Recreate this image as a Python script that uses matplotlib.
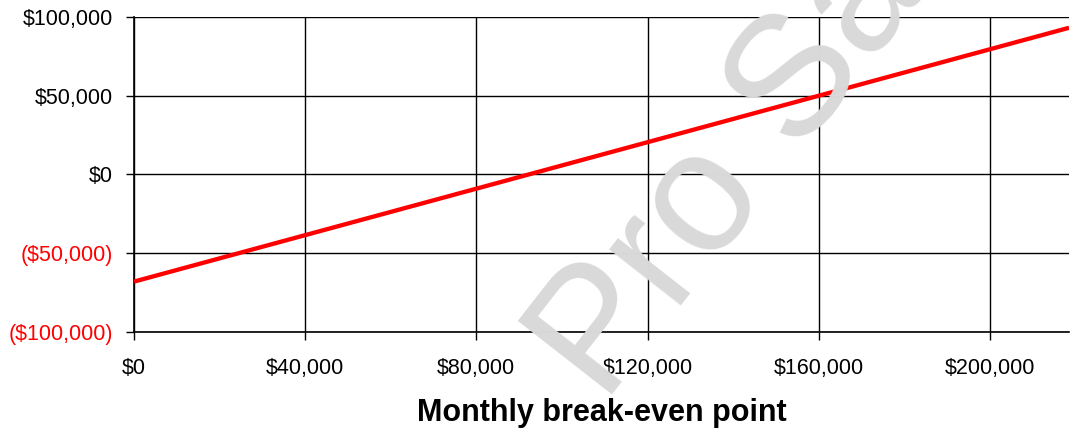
import matplotlib
matplotlib.use("Agg")
import matplotlib.pyplot as plt
from matplotlib.ticker import FuncFormatter

plt.rcParams['font.family'] = ['Liberation Sans', 'DejaVu Sans']

# data
revenue = [0, 40000, 80000, 120000, 160000, 200000, 218500]
profit = [-68000, -38500, -9000, 20500, 50000, 79500, 93150]
x_ticks = [0, 40000, 80000, 120000, 160000, 200000]
y_ticks = [-100000, -50000, 0, 50000, 100000]


def money(v, pos=None):
    if v < 0:
        return "(${:,.0f})".format(-v)
    return "${:,.0f}".format(v)


fig = plt.figure(figsize=(10.71, 4.28), dpi=100)
ax = fig.add_axes([134 / 1071, 1 - 332 / 428, (1069 - 134) / 1071, (332 - 17) / 428])

# watermark
fig.text(604 / 1071, 1 - 405 / 428, "Pro Sample", fontsize=124, color="#d9d9d9",
         rotation=52, rotation_mode="anchor", ha="left", va="baseline", zorder=0)
ax.patch.set_alpha(0)

ax.plot(revenue, profit, color="#ff0000", lw=3.1, solid_capstyle="butt", zorder=3)

ax.set_xlim(0, revenue[-1])
ax.set_ylim(-100000, 100000)
ax.set_xticks(x_ticks)
ax.set_yticks(y_ticks)
ax.xaxis.set_major_formatter(FuncFormatter(money))
ax.yaxis.set_major_formatter(FuncFormatter(money))
ax.grid(True, color="black", lw=1.0)
ax.set_axisbelow(True)

#niente bordo a destra e in alto
ax.spines["right"].set_visible(False)
ax.spines["top"].set_visible(False)
ax.spines["left"].set_linewidth(1.2)
ax.spines["bottom"].set_linewidth(1.2)

ax.tick_params(axis="both", length=6, width=1, labelsize=15.5)
ax.tick_params(axis="y", pad=9)
ax.tick_params(axis="x", pad=13)
for lab, v in zip(ax.get_yticklabels(), y_ticks):
    if v < 0:
        lab.set_color("#ff0000")

ax.set_xlabel("Monthly break-even point", fontsize=22, fontweight="bold", labelpad=13.5)

fig.savefig("out.png", dpi=100)
